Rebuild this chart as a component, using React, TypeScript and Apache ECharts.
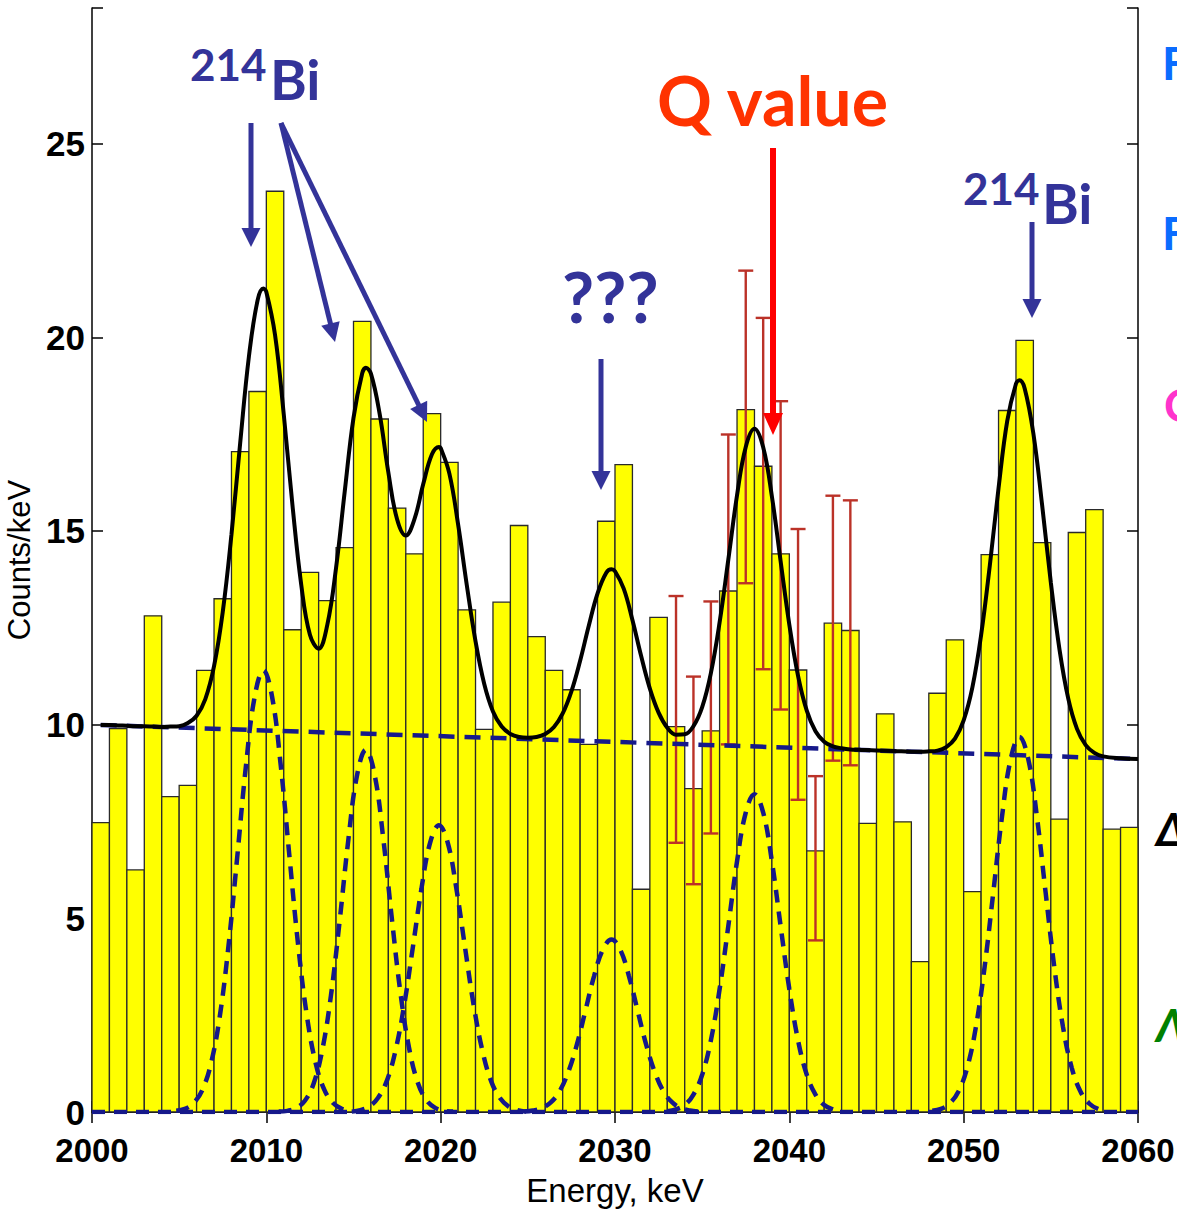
import React, { useEffect, useRef } from "react";
import * as echarts from "echarts";

// ---------- data ----------
const binStart = 2000; // first bin edge, keV (bins are 1 keV wide)
const counts = [
  7.47, 9.9, 6.25, 12.81, 8.14, 8.43, 11.4, 13.25, 17.05, 18.6,
  23.77, 12.45, 13.93, 13.2, 14.57, 20.41, 17.89, 15.59, 14.41, 18.03,
  16.77, 12.96, 9.88, 13.16, 15.14, 12.27, 11.4, 10.9, 9.49, 15.25,
  16.71, 5.75, 12.77, 9.95, 8.35, 9.84, 13.45, 18.13, 16.67, 14.41,
  11.41, 6.74, 12.62, 12.43, 7.45, 10.28, 7.49, 3.88, 10.81, 12.19,
  5.69, 14.39, 18.11, 19.92, 14.7, 7.56, 14.96, 15.55, 7.3, 7.35,
];

const errEnergy = [2033.5, 2034.5, 2035.5, 2036.5, 2037.5, 2038.5, 2039.5, 2040.5, 2041.5, 2042.5, 2043.5];
const errLow = [6.95, 5.88, 7.19, 9.49, 13.65, 11.43, 10.39, 8.06, 4.43, 9.07, 8.95];
const errHigh = [13.32, 11.24, 13.18, 17.49, 21.72, 20.5, 18.35, 15.05, 8.67, 15.91, 15.79];

// total fit curve (solid black)
const fitEnergy = [
  2000.5, 2001, 2001.5, 2002, 2002.5, 2003, 2003.5, 2004, 2004.5, 2005,
  2005.5, 2006, 2006.5, 2007, 2007.5, 2008, 2008.5, 2009, 2009.5, 2009.83,
  2010, 2010.5, 2011, 2011.5, 2012, 2012.5, 2013, 2013.5, 2014, 2014.5,
  2015, 2015.5, 2015.71, 2016, 2016.5, 2017, 2017.5, 2018, 2018.5, 2019,
  2019.5, 2019.9, 2020, 2020.5, 2021, 2021.5, 2022, 2022.5, 2023, 2023.5,
  2024, 2024.5, 2025, 2025.5, 2026, 2026.5, 2027, 2027.5, 2028, 2028.5,
  2029, 2029.5, 2029.8, 2030, 2030.5, 2031, 2031.5, 2032, 2032.5, 2033,
  2033.5, 2034, 2034.5, 2035, 2035.5, 2036, 2036.5, 2037, 2037.5, 2038,
  2038.5, 2039, 2039.5, 2040, 2040.5, 2041, 2041.5, 2042, 2042.5, 2043,
  2043.5, 2044, 2045, 2046, 2047, 2047.5, 2048, 2048.5, 2049, 2049.5,
  2050, 2050.5, 2051, 2051.5, 2052, 2052.5, 2053, 2053.2, 2053.5, 2054,
  2054.5, 2055, 2055.5, 2056, 2056.5, 2057, 2057.5, 2058, 2059, 2060,
];
const fitCounts = [
  9.99, 9.99, 9.98, 9.97, 9.96, 9.96, 9.95, 9.94, 9.95, 9.96,
  10.04, 10.23, 10.66, 11.51, 12.91, 14.91, 17.27, 19.5, 20.96, 21.26,
  21.17, 20.06, 18.01, 15.66, 13.62, 12.32, 11.96, 12.58, 14.05, 16.03,
  17.92, 19.07, 19.21, 19.06, 18.02, 16.51, 15.3, 14.88, 15.31, 16.21,
  16.98, 17.17, 17.14, 16.48, 15.17, 13.6, 12.15, 11.05, 10.34, 9.95,
  9.76, 9.68, 9.66, 9.68, 9.76, 9.94, 10.29, 10.86, 11.65, 12.56,
  13.39, 13.92, 14.01, 13.96, 13.51, 12.7, 11.77, 10.93, 10.31, 9.92,
  9.74, 9.75, 9.96, 10.45, 11.33, 12.64, 14.26, 15.92, 17.17, 17.64,
  17.16, 15.89, 14.22, 12.58, 11.26, 10.36, 9.83, 9.56, 9.44, 9.39,
  9.36, 9.35, 9.33, 9.32, 9.3, 9.3, 9.31, 9.33, 9.42, 9.64,
  10.11, 10.96, 12.31, 14.11, 16.1, 17.84, 18.8, 18.89, 18.68, 17.51,
  15.67, 13.67, 11.93, 10.67, 9.89, 9.47, 9.27, 9.18, 9.13, 9.11,
];

// background (dashed) line end points
const backgroundEnergy = [2000.5, 2060];
const backgroundCounts = [9.99, 9.11];

// individual peak components (dashed), sampled at offsets from each centre
const peakCenters = [2009.83, 2015.71, 2019.9, 2029.8, 2038.0, 2053.2];
const peakOffsets = [-5, -4.5, -4, -3.5, -3, -2.5, -2, -1.5, -1, -0.5, 0, 0.5, 1, 1.5, 2, 2.5, 3, 3.5, 4, 4.5, 5];
const peak1 = [0.03, 0.08, 0.23, 0.57, 1.26, 2.47, 4.29, 6.58, 8.93, 10.72, 11.4, 10.72, 8.93, 6.58, 4.29, 2.47, 1.26, 0.57, 0.23, 0.08, 0.03];
const peak2 = [0.01, 0.03, 0.1, 0.29, 0.73, 1.6, 3.02, 4.95, 7.05, 8.71, 9.35, 8.71, 7.05, 4.95, 3.02, 1.6, 0.73, 0.29, 0.1, 0.03, 0.01];
const peak3 = [0.01, 0.05, 0.14, 0.36, 0.79, 1.57, 2.74, 4.24, 5.77, 6.96, 7.4, 6.96, 5.77, 4.24, 2.74, 1.57, 0.79, 0.36, 0.14, 0.05, 0.01];
const peak4 = [0.01, 0.04, 0.1, 0.24, 0.52, 1.01, 1.72, 2.61, 3.51, 4.19, 4.45, 4.19, 3.51, 2.61, 1.72, 1.01, 0.52, 0.24, 0.1, 0.04, 0.01];
const peak5 = [0.02, 0.07, 0.18, 0.45, 0.96, 1.85, 3.17, 4.8, 6.47, 7.73, 8.2, 7.73, 6.47, 4.8, 3.17, 1.85, 0.96, 0.45, 0.18, 0.07, 0.02];
const peak6 = [0.03, 0.08, 0.22, 0.53, 1.14, 2.19, 3.74, 5.67, 7.63, 9.12, 9.68, 9.12, 7.63, 5.67, 3.74, 2.19, 1.14, 0.53, 0.22, 0.08, 0.03];
const peakComponents = [peak1, peak2, peak3, peak4, peak5, peak6];

const xMin = 2000;
const xMax = 2060;
const xInterval = 10;
const yMin = 0;
const yMax = 28.5;
const yInterval = 5;

// ---------- styling ----------
const BLUE = "#333399";
const DASH_BLUE = "#16198a";
const LABEL_FONT = "'Liberation Sans', Arial, sans-serif";
const ANNO_FONT = "Lato, 'Open Sans', sans-serif";

function arrow(x1: number, y1: number, x2: number, y2: number, color: string, width: number, headLen: number, headHalf: number) {
  const dx = x2 - x1;
  const dy = y2 - y1;
  const L = Math.hypot(dx, dy);
  const ux = dx / L;
  const uy = dy / L;
  const bx = x2 - ux * headLen;
  const by = y2 - uy * headLen;
  const px = -uy * headHalf;
  const py = ux * headHalf;
  return [
    { type: "line", z: 100, shape: { x1, y1, x2: bx + ux * 2, y2: by + uy * 2 }, style: { stroke: color, lineWidth: width } },
    { type: "polygon", z: 100, shape: { points: [[x2, y2], [bx + px, by + py], [bx - px, by - py]] }, style: { fill: color } },
  ];
}

export default function App() {
  const ref = useRef<HTMLDivElement>(null);

  useEffect(() => {
    document.body.style.margin = "0";
    document.body.style.overflow = "hidden";
    if (!ref.current) return;
    const chart = echarts.init(ref.current, undefined, { renderer: "svg" });

    const axisLine = { show: true, lineStyle: { color: "#000", width: 1.5 } };
    const tick = { show: true, inside: true, length: 11, lineStyle: { color: "#000", width: 1.5 } };

    const dashedComponentSeries = peakComponents.map((vals, k) => ({
      type: "line",
      data: vals.map((v, i) => [peakCenters[k] + peakOffsets[i], v]),
      smooth: 0.4,
      symbol: "none",
      lineStyle: { color: DASH_BLUE, width: 4.5, type: [13, 9] },
      z: 4,
      silent: true,
    }));

    const texts: any[] = [
      { type: "text", z: 110, x: 190, y: 64, style: { text: "214", fill: BLUE, font: `bold 44px ${ANNO_FONT}`, verticalAlign: "middle" } },
      { type: "text", z: 110, x: 270, y: 78, style: { text: "Bi", fill: BLUE, font: `bold 56px ${ANNO_FONT}`, verticalAlign: "middle" } },
      { type: "text", z: 110, x: 963, y: 188, style: { text: "214", fill: BLUE, font: `bold 44px ${ANNO_FONT}`, verticalAlign: "middle" } },
      { type: "text", z: 110, x: 1042, y: 202, style: { text: "Bi", fill: BLUE, font: `bold 56px ${ANNO_FONT}`, verticalAlign: "middle" } },
      { type: "text", z: 110, x: 562, y: 296, style: { text: "???", fill: BLUE, font: `bold 70px ${ANNO_FONT}`, verticalAlign: "middle" } },
      { type: "text", z: 110, x: 657, y: 99, style: { text: "Q value", fill: "#ff3300", font: `bold 68px ${ANNO_FONT}`, verticalAlign: "middle" } },
      // slide text clipped at the right edge
      { type: "text", z: 110, x: 1162, y: 62, style: { text: "F", fill: "#0a6cff", font: `bold 46px ${ANNO_FONT}`, verticalAlign: "middle" } },
      { type: "text", z: 110, x: 1162, y: 232, style: { text: "F", fill: "#0a6cff", font: `bold 46px ${ANNO_FONT}`, verticalAlign: "middle" } },
      { type: "text", z: 110, x: 1164, y: 404, style: { text: "C", fill: "#ff33cc", font: `bold 46px ${ANNO_FONT}`, verticalAlign: "middle" } },
      { type: "text", z: 110, x: 1156, y: 828, style: { text: "Δ", fill: "#000", font: `italic bold 46px ${ANNO_FONT}`, verticalAlign: "middle" } },
      { type: "text", z: 110, x: 1156, y: 1024, style: { text: "Λ", fill: "#008000", font: `italic bold 46px ${ANNO_FONT}`, verticalAlign: "middle" } },
    ];

    const arrows: any[] = [
      ...arrow(251, 123, 251, 247, BLUE, 5, 19, 9.5),
      ...arrow(281, 123, 335, 342, BLUE, 5, 19, 9.5),
      ...arrow(281, 123, 427, 422, BLUE, 5, 19, 9.5),
      ...arrow(601, 359, 601, 490, BLUE, 5, 19, 9.5),
      ...arrow(1032, 222, 1032, 318, BLUE, 5, 19, 9.5),
      ...arrow(773, 148, 773, 435, "#ff0000", 6, 22, 10),
    ];

    const option: any = {
      animation: false,
      backgroundColor: "#ffffff",
      grid: { left: 92, right: 39, top: 8, bottom: 105, show: false, containLabel: false, outerBoundsMode: "none" },
      xAxis: [
        {
          type: "value",
          min: xMin,
          max: xMax,
          interval: xInterval,
          position: "bottom",
          axisLine,
          axisTick: tick,
          splitLine: { show: false },
          axisLabel: {
            color: "#000",
            fontFamily: LABEL_FONT,
            fontWeight: "bold",
            fontSize: 33,
            lineHeight: 33,
            margin: 22,
            formatter: (v: number) => String(v),
          },
          name: "Energy, keV",
          nameLocation: "middle",
          nameGap: 62,
          nameTextStyle: { color: "#000", fontFamily: LABEL_FONT, fontSize: 33 },
        },
        {
          type: "value",
          min: xMin,
          max: xMax,
          interval: xInterval,
          position: "top",
          axisLine,
          axisTick: tick,
          splitLine: { show: false },
          axisLabel: { show: false },
        },
      ],
      yAxis: [
        {
          type: "value",
          min: yMin,
          max: yMax,
          interval: yInterval,
          position: "left",
          axisLine,
          axisTick: tick,
          splitLine: { show: false },
          axisLabel: {
            color: "#000",
            fontFamily: LABEL_FONT,
            fontWeight: "bold",
            fontSize: 35,
            lineHeight: 26,
            margin: 7,
            formatter: (v: number) => (v % 5 === 0 ? String(v) : ""),
          },
          name: "Counts/keV",
          nameLocation: "middle",
          nameGap: 52,
          nameTextStyle: { color: "#000", fontFamily: LABEL_FONT, fontSize: 31 },
        },
        {
          type: "value",
          min: yMin,
          max: yMax,
          interval: yInterval,
          position: "right",
          axisLine,
          axisTick: tick,
          splitLine: { show: false },
          axisLabel: { show: false },
        },
      ],
      series: [
        {
          type: "custom",
          name: "counts",
          z: 1,
          silent: true,
          encode: { x: [0, 1], y: 2 },
          data: counts.map((c, i) => [binStart + i, binStart + i + 1, c]),
          renderItem: (_p: any, api: any) => {
            const a = api.coord([api.value(0), api.value(2)]);
            const b = api.coord([api.value(1), 0]);
            return {
              type: "rect",
              shape: { x: a[0], y: a[1], width: b[0] - a[0], height: b[1] - a[1] },
              style: { fill: "#ffff00", stroke: "#2a2a2a", lineWidth: 1.3 },
            };
          },
        },
        {
          type: "custom",
          name: "errors",
          z: 3,
          silent: true,
          encode: { x: 0, y: [1, 2] },
          data: errEnergy.map((e, i) => [e, errLow[i], errHigh[i]]),
          renderItem: (_p: any, api: any) => {
            const lo = api.coord([api.value(0), api.value(1)]);
            const hi = api.coord([api.value(0), api.value(2)]);
            const cap = 7.5;
            const st = { stroke: "#bb3228", lineWidth: 2.4 };
            return {
              type: "group",
              children: [
                { type: "line", shape: { x1: lo[0], y1: lo[1], x2: hi[0], y2: hi[1] }, style: st },
                { type: "line", shape: { x1: hi[0] - cap, y1: hi[1], x2: hi[0] + cap, y2: hi[1] }, style: st },
                { type: "line", shape: { x1: lo[0] - cap, y1: lo[1], x2: lo[0] + cap, y2: lo[1] }, style: st },
              ],
            };
          },
        },
        {
          type: "line",
          name: "baseline",
          data: [[xMin, 0], [xMax, 0]],
          symbol: "none",
          lineStyle: { color: DASH_BLUE, width: 4.5, type: [13, 9] },
          z: 4,
          silent: true,
        },
        ...dashedComponentSeries,
        {
          type: "line",
          name: "background",
          data: backgroundEnergy.map((e, i) => [e, backgroundCounts[i]]),
          symbol: "none",
          lineStyle: { color: DASH_BLUE, width: 4.5, type: [16, 10] },
          z: 4,
          silent: true,
        },
        {
          type: "line",
          name: "fit",
          data: fitEnergy.map((e, i) => [e, fitCounts[i]]),
          smooth: 0.4,
          symbol: "none",
          lineStyle: { color: "#000", width: 4 },
          z: 6,
          silent: true,
        },
      ],
      graphic: [...arrows, ...texts],
    };

    chart.setOption(option);
    return () => chart.dispose();
  }, []);

  return <div ref={ref} style={{ width: 1177, height: 1217 }} />;
}
